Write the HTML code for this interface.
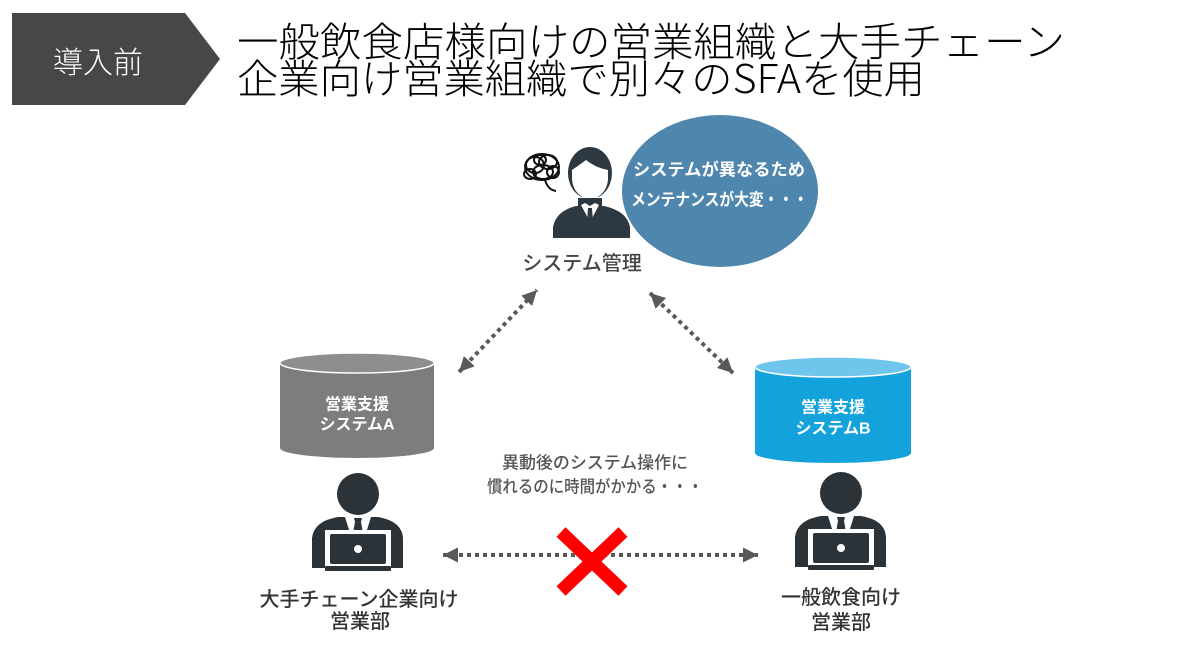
<!DOCTYPE html>
<html><head><meta charset="utf-8">
<style>
html,body{margin:0;padding:0;background:#fff;}
svg{display:block;}
text{font-family:"Liberation Sans","Noto Sans CJK JP",sans-serif;}
.cj{font-family:"Noto Sans CJK JP","Liberation Sans",sans-serif;}
</style></head>
<body>
<svg width="1200" height="650" viewBox="0 0 1200 650" xmlns="http://www.w3.org/2000/svg">
<defs>
<marker id="ah" viewBox="0 0 12 12" refX="12" refY="6" markerWidth="15" markerHeight="15" markerUnits="userSpaceOnUse" orient="auto-start-reverse">
<path d="M0,0 L12,6 L0,12 z" fill="#595959"/>
</marker>
<g id="lap">
<circle cx="358" cy="494" r="21" fill="#2b3339"/>
<path d="M312,568 L312,538 Q314,521 338,517 L378,517 Q402,521 403,538 L403,568 Z" fill="#2b3339"/>
<polygon points="345,517 371,517 366,533 350,533" fill="#fff"/>
<polygon points="354,518 362,518 361,522 363,533 353,533 355,522" fill="#2b3339"/>
<rect x="325" y="530" width="66" height="37" fill="#fff"/>
<rect x="330" y="534" width="56" height="30" rx="2" fill="#2b3339"/>
<rect x="325" y="566" width="66" height="5" rx="1" fill="#2b3339"/>
<circle cx="358" cy="549" r="4" fill="#fff"/>
</g>
</defs>

<!-- header -->
<polygon points="12,13 185,13 220,59 185,105 12,105" fill="#474747"/>
<text class="cj" x="98" y="60" font-size="30" fill="#fff" text-anchor="middle" dominant-baseline="central" font-weight="300">導入前</text>
<text class="cj" x="237" y="56" font-size="40" fill="#000" font-weight="300" textLength="828" lengthAdjust="spacingAndGlyphs">一般飲食店様向けの営業組織と大手チェーン</text>
<text class="cj" x="237" y="93" font-size="40" fill="#000" font-weight="300" textLength="688" lengthAdjust="spacingAndGlyphs">企業向け営業組織で別々のSFAを使用</text>

<!-- balloon -->
<ellipse cx="720" cy="191" rx="98" ry="76" fill="#4e86ad"/>
<text x="633" y="170" font-size="17" fill="#fff" font-weight="bold" dominant-baseline="central" textLength="172" lengthAdjust="spacingAndGlyphs">システムが異なるため</text>
<text x="631" y="200" font-size="17" fill="#fff" font-weight="bold" dominant-baseline="central" textLength="177" lengthAdjust="spacingAndGlyphs">メンテナンスが大変・・・</text>

<!-- top person -->
<path d="M553,238 L553,227 Q556,211 576,206 L604,206 Q627,211 630,227 L630,238 Z" fill="#2e3840"/>
<ellipse cx="590" cy="173" rx="22" ry="26" fill="#2e3840"/>
<path d="M572,170 Q578,166 586,160 Q596,168 608,170 L608,180 Q606,196 590,200 Q574,196 572,180 Z" fill="#fff"/>
<rect x="582" y="196" width="16" height="10" fill="#fff"/>
<path d="M578,198 L578,206 L590,226 L602,206 L602,198" fill="#2e3840"/>
<polygon points="581,205 590,222 599,205 595,203 590,206 585,203" fill="#fff"/>
<polygon points="588,208 592,208 593,222 590,228 587,222" fill="#2e3840"/>
<!-- scribble -->
<g fill="none" stroke="#111" stroke-width="2">
<ellipse cx="542" cy="167" rx="17" ry="13"/>
<ellipse cx="535" cy="165" rx="9" ry="8"/>
<ellipse cx="548" cy="162" rx="9" ry="7"/>
<ellipse cx="543" cy="172" rx="10" ry="7"/>
<ellipse cx="530" cy="174" rx="6" ry="5"/>
<ellipse cx="553" cy="172" rx="6" ry="6"/>
<ellipse cx="540" cy="160" rx="6" ry="5"/>
<path d="M545,180 Q548,190 556,191"/>
</g>
<text x="582" y="264" font-size="20" fill="#444" text-anchor="middle" dominant-baseline="central" font-weight="500">システム管理</text>

<!-- arrows -->
<g stroke="#595959" stroke-width="4" stroke-dasharray="4 4" fill="none">
<line x1="459" y1="372" x2="537" y2="290" marker-start="url(#ah)" marker-end="url(#ah)"/>
<line x1="650" y1="293" x2="733" y2="373" marker-start="url(#ah)" marker-end="url(#ah)"/>
<line x1="443" y1="555" x2="758" y2="555" marker-start="url(#ah)" marker-end="url(#ah)"/>
</g>

<!-- cylinder A -->
<path d="M280,363 L280,448 A77,10 0 0 0 434,448 L434,363 Z" fill="#7d7d7d"/>
<ellipse cx="357" cy="363" rx="77" ry="10" fill="#8e8e8e" stroke="#fff" stroke-width="1.5"/>
<text x="357" y="405" font-size="16" fill="#fff" font-weight="bold" text-anchor="middle" dominant-baseline="central">営業支援</text>
<text x="357" y="425" font-size="16" fill="#fff" font-weight="bold" text-anchor="middle" dominant-baseline="central">システムA</text>

<!-- cylinder B -->
<path d="M755,367 L755,453 A78,10 0 0 0 911,453 L911,367 Z" fill="#13a2dc"/>
<ellipse cx="833" cy="367" rx="78" ry="10" fill="#6fc6ec" stroke="#fff" stroke-width="1.5"/>
<text x="833" y="408" font-size="16" fill="#fff" font-weight="bold" text-anchor="middle" dominant-baseline="central">営業支援</text>
<text x="833" y="429" font-size="16" fill="#fff" font-weight="bold" text-anchor="middle" dominant-baseline="central">システムB</text>

<!-- middle text -->
<text x="502" y="463" font-size="17" fill="#555" dominant-baseline="central" font-weight="500" textLength="186" lengthAdjust="spacingAndGlyphs">異動後のシステム操作に</text>
<text x="487" y="487" font-size="17" fill="#555" dominant-baseline="central" font-weight="500" textLength="216" lengthAdjust="spacingAndGlyphs">慣れるのに時間がかかる・・・</text>

<!-- people -->
<use href="#lap"/>
<use href="#lap" transform="translate(483,-1)"/>

<!-- red X -->
<g stroke="#ff0000" stroke-width="13">
<line x1="561" y1="532" x2="623" y2="591"/>
<line x1="623" y1="532" x2="561" y2="591"/>
</g>

<!-- labels -->
<text x="359" y="600" font-size="20" fill="#333" text-anchor="middle" dominant-baseline="central" font-weight="500">大手チェーン企業向け</text>
<text x="360" y="622" font-size="20" fill="#333" text-anchor="middle" dominant-baseline="central" font-weight="500">営業部</text>
<text x="841" y="598" font-size="20" fill="#333" text-anchor="middle" dominant-baseline="central" font-weight="500">一般飲食向け</text>
<text x="841" y="623" font-size="20" fill="#333" text-anchor="middle" dominant-baseline="central" font-weight="500">営業部</text>
</svg>
</body></html>
